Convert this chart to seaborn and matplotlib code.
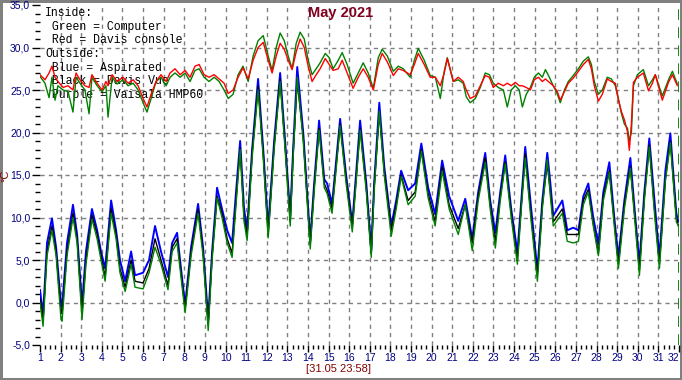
import matplotlib
matplotlib.use("Agg")
import matplotlib.pyplot as plt
import seaborn as sns
import pandas as pd
from matplotlib.ticker import MultipleLocator, FixedLocator, FixedFormatter

# ---------------- data ----------------
t_in = [1.00, 1.24, 1.44, 1.58, 1.73, 1.87, 2.12, 2.36, 2.60, 2.75, 2.94, 3.18, 3.38, 3.52,
        3.77, 4.01, 4.20, 4.30, 4.50, 4.74, 5.03, 5.27, 5.52, 5.76, 6.00, 6.19, 6.39, 6.63,
        6.87, 7.12, 7.31, 7.55, 7.80, 8.04, 8.28, 8.52, 8.72, 8.96, 9.20, 9.45, 9.69, 9.93,
        10.13, 10.37, 10.61, 10.85, 11.10, 11.34, 11.58, 11.83, 12.07, 12.26, 12.46, 12.65,
        12.85, 13.04, 13.23, 13.43, 13.62, 13.82, 14.01, 14.20, 14.40, 14.59, 14.84, 15.03,
        15.22, 15.47, 15.66, 15.90, 16.19, 16.44, 16.68, 16.92, 17.17, 17.41, 17.60, 17.85,
        18.14, 18.38, 18.62, 18.96, 19.16, 19.35, 19.64, 19.93, 20.18, 20.42, 20.61, 20.76,
        21.05, 21.29, 21.53, 21.68, 21.87, 22.12, 22.36, 22.60, 22.80, 22.99, 23.23, 23.48,
        23.67, 23.86, 24.06, 24.25, 24.40, 24.59, 24.79, 24.98, 25.18, 25.37, 25.52, 25.71,
        25.90, 26.10, 26.24, 26.44, 26.63, 26.87, 27.12, 27.36, 27.60, 27.75, 27.89, 28.09,
        28.28, 28.52, 28.72, 28.91, 29.06, 29.20, 29.35, 29.50, 29.59, 29.69, 29.79, 29.98,
        30.27, 30.52, 30.71, 30.85, 31.19, 31.49, 31.68, 31.92]
red_in = [26.8, 26.2, 27.0, 27.8, 26.5, 26.0, 25.3, 25.5, 25.0, 27.0, 26.2, 25.5, 25.3, 26.8,
          25.8, 25.0, 26.0, 25.5, 26.8, 26.0, 26.5, 25.8, 26.2, 25.5, 24.0, 23.0, 24.5, 26.0,
          26.8, 26.0, 27.0, 27.5, 26.8, 27.3, 26.5, 27.8, 28.0, 26.8, 26.5, 26.8, 26.3, 25.8,
          24.6, 25.0, 26.5, 27.6, 26.3, 28.5, 30.0, 30.6, 28.5, 27.0, 29.0, 30.5,
          29.8, 28.5, 27.4, 29.5, 31.0, 30.0, 27.8, 26.0, 26.8, 27.5, 28.7, 28.0,
          27.3, 27.5, 28.5, 27.0, 25.2, 26.5, 27.5, 26.5, 25.0, 28.0, 29.3, 28.3,
          26.7, 27.5, 27.3, 26.8, 28.0, 29.3, 28.0, 26.5, 26.5, 25.5, 27.0, 28.7,
          26.0, 26.5, 26.0, 25.0, 24.0, 24.3, 25.5, 26.7, 26.5, 25.3, 25.8, 25.5,
          25.8, 25.5, 25.9, 25.5, 25.5, 25.3, 25.0, 26.2, 26.5, 26.0, 26.3, 25.9,
          25.5, 24.8, 23.8, 24.8, 25.8, 26.4, 27.2, 28.0, 28.6, 27.5, 25.5, 23.7,
          24.5, 26.3, 26.0, 25.8, 23.8, 22.5, 21.5, 20.1, 17.9, 21.0, 25.9, 26.5,
          27.0, 24.9, 25.8, 26.8, 23.8, 25.9, 26.8, 25.5]
green_in = [26.6, 25.8, 24.1, 26.5, 23.8, 25.5, 25.0, 24.8, 22.4, 26.5, 25.8, 25.0, 22.2, 26.5,
            25.5, 24.8, 25.5, 21.8, 26.5, 25.7, 26.2, 25.5, 25.8, 25.0, 23.5, 22.4, 24.0, 26.0,
            26.5, 25.5, 26.5, 27.0, 26.5, 27.0, 26.0, 27.3, 27.5, 26.5, 26.0, 26.5, 26.0, 25.0,
            24.0, 24.5, 26.8, 27.8, 26.0, 29.0, 30.8, 31.4, 29.0, 27.3, 30.0, 31.7,
            30.8, 29.0, 27.5, 30.5, 31.8, 31.0, 28.5, 26.8, 27.5, 28.2, 29.3, 28.8,
            27.5, 28.5, 29.4, 28.0, 25.8, 27.0, 28.2, 27.0, 25.2, 28.8, 29.8, 29.0,
            27.2, 27.8, 27.5, 26.5, 28.5, 29.9, 28.5, 26.7, 26.5, 24.0, 27.2, 28.8,
            26.0, 26.2, 25.8, 24.2, 23.5, 24.0, 25.3, 27.0, 26.8, 25.8, 25.3, 25.0,
            23.0, 25.0, 25.5, 25.0, 23.0, 24.5, 25.3, 26.5, 27.0, 26.5, 27.4, 26.5,
            25.5, 24.5, 23.5, 25.0, 26.0, 26.7, 27.5, 28.4, 28.9, 28.0, 26.0, 24.5,
            25.0, 26.5, 26.3, 25.5, 24.0, 22.3, 21.0, 20.5, 19.0, 20.0, 25.5, 26.8,
            27.4, 25.5, 26.2, 26.8, 24.3, 26.2, 27.2, 25.7]

t_out = [1.00, 1.15, 1.34, 1.58, 1.78, 2.02, 2.07, 2.31, 2.60, 2.80, 3.04, 3.23, 3.52, 3.77,
         3.96, 4.16, 4.45, 4.69, 4.88, 5.13, 5.42, 5.61, 6.00, 6.29, 6.58, 6.87, 7.21, 7.41,
         7.65, 7.84, 8.04, 8.33, 8.67, 8.91, 9.16, 9.35, 9.59, 9.83, 10.08, 10.32, 10.51,
         10.71, 10.90, 11.05, 11.29, 11.58, 11.83, 12.07, 12.36, 12.65, 12.89, 13.14, 13.28,
         13.48, 13.77, 14.11, 14.30, 14.54, 14.79, 14.93, 15.17, 15.56, 15.85, 16.15, 16.53,
         16.83, 17.07, 17.21, 17.46, 17.70, 18.04, 18.28, 18.52, 18.86, 19.20, 19.50, 19.83,
         20.17, 20.51, 20.85, 21.29, 21.63, 21.97, 22.26, 22.60, 22.84, 23.09, 23.33, 23.57,
         23.86, 24.16, 24.35, 24.54, 24.83, 25.13, 25.37, 25.61, 25.76, 25.90, 26.34, 26.58,
         26.87, 27.12, 27.36, 27.60, 27.84, 28.09, 28.33, 28.62, 28.86, 29.06, 29.35, 29.64,
         29.88, 30.08, 30.32, 30.56, 30.81, 31.05, 31.34, 31.58, 31.87, 31.97]
blue_out = [1.5, -1.5, 7.0, 9.9, 6.5, -0.3, -0.5, 7.0, 11.5, 8.0, -0.3, 6.0, 11.0, 8.5,
            6.0, 4.0, 12.0, 8.5, 5.0, 2.5, 6.0, 3.2, 3.5, 5.0, 9.0, 6.0, 3.0, 7.0,
            8.2, 4.0, -0.3, 6.5, 11.6, 6.5, -2.0, 6.0, 13.5, 11.0, 8.5, 7.0, 13.0,
            19.0, 11.0, 8.5, 18.0, 26.3, 18.0, 8.8, 19.0, 27.0, 19.0, 10.2, 18.0,
            27.7, 20.0, 7.3, 14.0, 21.4, 14.5, 14.0, 11.6, 21.6, 15.0, 9.3, 21.4,
            14.0, 6.1, 14.0, 23.5, 16.0, 9.0, 12.0, 15.5, 13.2, 14.0, 18.7, 13.5,
            10.4, 16.7, 12.5, 9.6, 12.2, 7.5, 13.0, 17.6, 12.0, 8.2, 13.0, 17.3,
            11.0, 5.9, 12.0, 18.3, 11.0, 3.8, 12.0, 17.6, 14.0, 10.2, 12.0, 8.5,
            8.8, 8.5, 12.5, 14.0, 10.0, 6.9, 13.0, 16.5, 10.0, 5.3, 12.0, 17.0,
            10.0, 4.6, 13.0, 19.3, 12.0, 5.3, 15.5, 19.9, 10.5, 9.5]
black_out = [0.5, -2.0, 6.0, 9.0, 6.0, -1.0, -1.3, 6.0, 10.5, 7.5, -1.2, 5.0, 10.3, 8.0,
             5.5, 3.0, 11.0, 8.0, 4.0, 1.8, 5.0, 2.5, 2.3, 4.0, 7.5, 5.0, 2.0, 6.5,
             7.5, 3.5, -0.8, 6.0, 11.0, 6.0, -2.6, 5.5, 12.5, 10.5, 7.5, 5.8, 12.0,
             18.2, 10.0, 8.0, 17.5, 25.5, 17.5, 8.0, 18.5, 26.3, 18.5, 9.5, 17.5,
             26.0, 19.5, 6.8, 13.5, 20.5, 14.0, 13.2, 11.0, 21.0, 14.5, 8.8, 20.5,
             13.5, 5.8, 13.5, 22.3, 15.5, 8.5, 11.5, 15.0, 12.0, 13.0, 18.0, 12.8,
             9.5, 16.0, 11.5, 8.7, 11.5, 7.0, 12.5, 17.0, 11.5, 7.2, 12.5, 16.5,
             10.5, 5.0, 11.5, 17.5, 10.0, 3.2, 11.5, 16.3, 13.0, 9.5, 11.0, 8.0,
             8.0, 8.0, 12.0, 13.3, 9.3, 5.8, 12.5, 15.5, 9.5, 4.5, 11.5, 16.0,
             9.5, 3.8, 12.5, 18.5, 11.0, 4.5, 14.5, 19.0, 10.0, 9.0]
green_out = [0.0, -2.8, 5.5, 8.5, 5.5, -2.0, -2.2, 5.5, 10.0, 7.0, -2.0, 4.5, 9.8, 7.5,
             5.0, 2.5, 10.5, 7.5, 3.5, 1.3, 4.5, 1.8, 1.6, 3.5, 6.5, 4.5, 1.5, 6.0,
             7.0, 3.0, -1.2, 5.5, 10.5, 5.5, -3.3, 5.0, 12.3, 10.0, 7.0, 5.3, 11.5,
             18.0, 9.5, 7.3, 17.0, 25.0, 17.0, 7.6, 18.0, 26.0, 18.0, 9.0, 17.0,
             26.5, 19.0, 6.3, 13.0, 20.3, 13.5, 12.8, 10.5, 20.8, 14.0, 8.3, 20.3,
             13.0, 5.3, 13.0, 22.5, 15.0, 7.8, 11.0, 14.8, 11.5, 12.5, 17.8, 12.3,
             9.0, 15.5, 11.0, 8.0, 11.5, 6.1, 12.0, 16.5, 11.0, 6.4, 12.0, 16.3,
             10.0, 4.5, 11.0, 17.0, 9.5, 2.5, 11.0, 16.8, 12.5, 9.0, 10.5, 7.2,
             7.0, 7.2, 11.5, 13.0, 9.0, 5.5, 12.0, 15.3, 9.0, 4.0, 11.0, 15.8,
             9.0, 3.2, 12.0, 18.3, 10.5, 4.0, 14.3, 18.8, 9.5, 9.0]

ytick_values = [-5, 0, 5, 10, 15, 20, 25, 30, 35]
ytick_labels = ["-5,0", "0,0", "5,0", "10,0", "15,0", "20,0", "25,0", "30,0", "35,0"]
xtick_values = list(range(1, 33))
xtick_labels = [str(d) for d in xtick_values]
legend_lines = ["Inside:", " Green = Computer", " Red = Davis console", "Outside:",
                " Blue = Aspirated", " Black = Davis Vue", " Purple = Vaisala HMP60"]
title = "May 2021"
stamp = "[31.05 23:58]"
unit = "°C"

# ---------------- plot ----------------
sns.set_style("white")
plt.rcParams['font.family'] = ['Liberation Sans', 'DejaVu Sans']

fig = plt.figure(figsize=(6.82, 3.80), dpi=100)
fig.patch.set_facecolor("white")
fig.patch.set_edgecolor("#808080")
fig.patch.set_linewidth(2.5)
ax = fig.add_axes([40 / 682, 1 - 345 / 380, 639 / 682, 340 / 380])

df_out = pd.DataFrame({"t": t_out, "blue": blue_out, "black": black_out, "green": green_out})
df_in = pd.DataFrame({"t": t_in, "red": red_in, "green": green_in})

sns.lineplot(data=df_out, x="t", y="blue", color="#0000ff", lw=1.4, ax=ax,
             estimator=None, sort=False, zorder=3)
sns.lineplot(data=df_out, x="t", y="black", color="#000000", lw=1.0, ax=ax,
             estimator=None, sort=False, zorder=4)
sns.lineplot(data=df_out, x="t", y="green", color="#008000", lw=1.0, ax=ax,
             estimator=None, sort=False, zorder=5)
sns.lineplot(data=df_in, x="t", y="green", color="#008000", lw=1.0, ax=ax,
             estimator=None, sort=False, zorder=6)
sns.lineplot(data=df_in, x="t", y="red", color="#ff0000", lw=1.0, ax=ax,
             estimator=None, sort=False, zorder=7)

ax.axvline(32, color="#008000", lw=1.3, ls=(0, (6, 4)), zorder=8)

ax.set_xlim(1, 32)
ax.set_ylim(-5, 35)
for s in ax.spines.values():
    s.set_visible(False)

ax.yaxis.set_major_locator(FixedLocator(ytick_values))
ax.yaxis.set_major_formatter(FixedFormatter(ytick_labels))
ax.yaxis.set_minor_locator(MultipleLocator(1))
ax.xaxis.set_major_locator(FixedLocator(xtick_values))
ax.xaxis.set_major_formatter(FixedFormatter(xtick_labels))
ax.xaxis.set_minor_locator(MultipleLocator(0.25))

ax.tick_params(axis="y", which="major", length=6, width=1, color="black",
               labelcolor="#000080", labelsize=7.5, pad=1, left=True, direction="out")
ax.tick_params(axis="y", which="minor", length=3.5, width=1, color="black", left=True,
               direction="out")
ax.tick_params(axis="x", which="major", length=5, width=1, color="black",
               labelcolor="#000080", labelsize=7.5, pad=0.5, bottom=True, direction="out")
ax.tick_params(axis="x", which="minor", length=3, width=1, color="black", bottom=True,
               direction="out")

for y in ytick_values[1:-1]:
    ax.axhline(y, color="#808080", lw=1, ls=(0, (3, 3)), zorder=1)
for x in xtick_values[1:-1]:
    ax.axvline(x, color="#808080", lw=1, ls=(0, (3, 3)), zorder=1)

ax.set_xlabel("")
ax.set_ylabel("")

fig.canvas.draw()
last_label = ax.get_xticklabels()[-1]
last_label.set_horizontalalignment("right")

for i, line in enumerate(legend_lines):
    ax.text(45 / 682, 1 - (13 + i * 13.7) / 380, line, transform=fig.transFigure,
            family="Liberation Mono", fontsize=8.3, color="black", va="center",
            ha="left", zorder=2)

fig.text(0.5, 1 - 13 / 380, title, ha="center", va="center", fontsize=10.5,
         fontweight="bold", color="#800020")
fig.text(338 / 682, 1 - 369 / 380, stamp, ha="center", va="center", fontsize=8,
         color="#800000")
fig.text(5 / 682, 1 - 176 / 380, unit, ha="center", va="center", fontsize=8,
         color="#800000", rotation=90)

fig.savefig("out.png", dpi=100, facecolor=fig.get_facecolor(), edgecolor=fig.get_edgecolor())
